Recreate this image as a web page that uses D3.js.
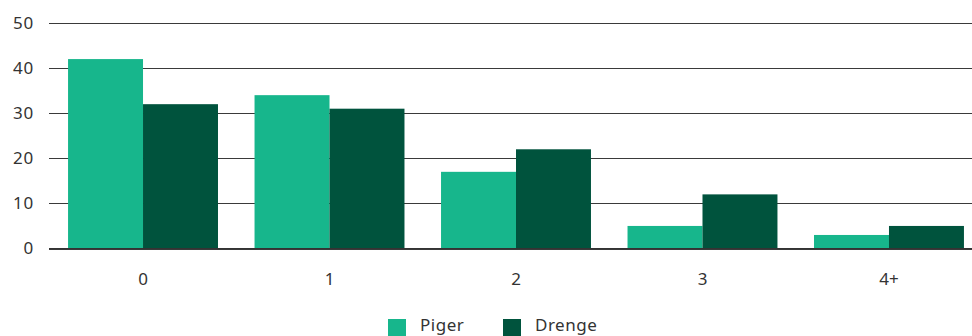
<!DOCTYPE html>
<html>
<head>
<meta charset="utf-8">
<script src="https://cdn.jsdelivr.net/npm/d3@7"></script>
<style>
  html, body { margin: 0; padding: 0; background: #fff; }
  svg { display: block; font-family: "Noto Sans", Lato, sans-serif; }
</style>
</head>
<body>
<svg id="chart" width="972" height="336"></svg>
<script>
// Number of children per household, split by sex
const categories = ["0", "1", "2", "3", "4+"];
const seriesNames = ["Piger", "Drenge"];
const piger = [42, 34, 17, 5, 3];
const drenge = [32, 31, 22, 12, 5];
const yTicks = [0, 10, 20, 30, 40, 50];
const colors = ["#17b68c", "#00533d"];

const svg = d3.select("#chart");
const gridLeft = 49, gridRight = 972;
const yTop = 23, yBottom = 248.5;
const fontStack = "\"Noto Sans\", Lato, sans-serif";

const y = d3.scaleLinear().domain([0, 50]).range([yBottom, yTop]);

const x = d3.scaleBand()
  .domain(categories)
  .range([49.4, 982.6])
  .paddingInner(0.196)
  .paddingOuter(0.1);

const xs = d3.scaleBand().domain(seriesNames).range([0, x.bandwidth()]);

// Gridlines and tick labels
const yAxis = d3.axisLeft(y)
  .tickValues(yTicks)
  .tickSize(0)
  .tickPadding(0);

const gy = svg.append("g").attr("transform", `translate(${gridLeft},0)`).call(yAxis);
gy.select(".domain").remove();
gy.selectAll(".tick line")
  .attr("x2", gridRight - gridLeft)
  .attr("stroke", "#3a3a3a")
  .attr("stroke-width", 1)
  .attr("shape-rendering", "crispEdges");
gy.selectAll(".tick text")
  .attr("x", -15)
  .attr("font-size", 17)
  .attr("letter-spacing", 0.8)
  .attr("font-family", fontStack)
  .attr("fill", "#333");

// Bars
const rows = categories.map((c, i) => ({ cat: c, values: [piger[i], drenge[i]] }));
const groups = svg.append("g").selectAll("g")
  .data(rows)
  .join("g")
  .attr("transform", d => `translate(${x(d.cat)},0)`);

groups.selectAll("rect")
  .data(d => d.values.map((v, j) => ({ name: seriesNames[j], value: v, j })))
  .join("rect")
  .attr("x", d => xs(d.name))
  .attr("width", xs.bandwidth())
  .attr("y", d => y(d.value))
  .attr("height", d => y(0) - y(d.value))
  .attr("fill", d => colors[d.j]);

// Baseline on top of bars
svg.append("line")
  .attr("x1", gridLeft).attr("x2", gridRight)
  .attr("y1", y(0)).attr("y2", y(0))
  .attr("stroke", "#333").attr("stroke-width", 1.2);

// Category labels
const xAxis = d3.axisBottom(x).tickSize(0).tickPadding(0);
const gx = svg.append("g").attr("transform", `translate(0,${y(0)})`).call(xAxis);
gx.select(".domain").remove();
gx.selectAll(".tick text")
  .attr("y", 31)
  .attr("dy", "0.35em")
  .attr("font-size", 17)
  .attr("font-family", fontStack)
  .attr("fill", "#333");

// Legend
const legendItems = [
  { name: seriesNames[0], color: colors[0], x: 388 },
  { name: seriesNames[1], color: colors[1], x: 503 }
];
const lg = svg.append("g").selectAll("g")
  .data(legendItems)
  .join("g")
  .attr("transform", d => `translate(${d.x},319)`);
lg.append("rect").attr("width", 18).attr("height", 18).attr("fill", d => d.color);
lg.append("text")
  .attr("x", 32).attr("y", 12)
  .attr("font-size", 17)
  .attr("letter-spacing", 0.5)
  .attr("font-family", fontStack)
  .attr("fill", "#333")
  .text(d => d.name);
</script>
</body>
</html>
